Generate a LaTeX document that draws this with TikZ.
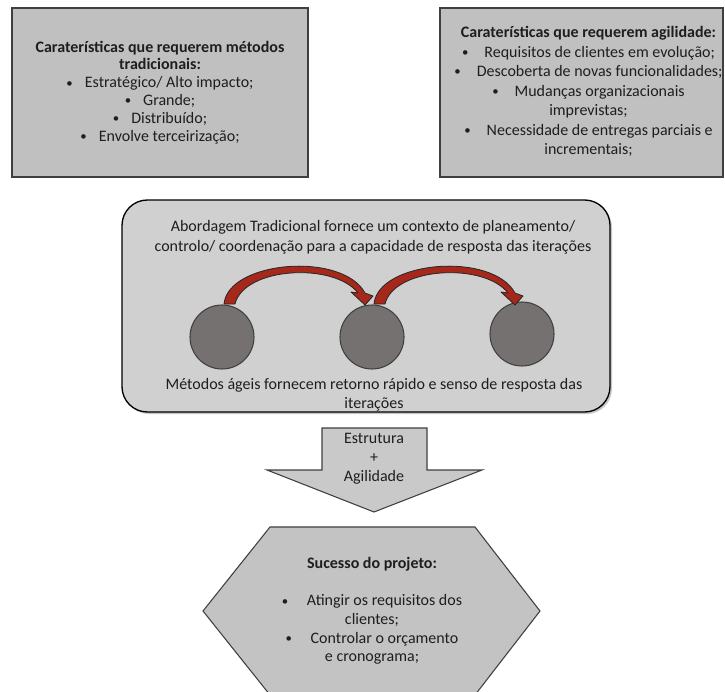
\documentclass[tikz,border=0pt]{standalone}
\usepackage{fontspec}
\setmainfont{Carlito}
\usetikzlibrary{shadows,calc}

\definecolor{boxgray}{HTML}{C0C0C0}
\definecolor{panelgray}{HTML}{D0D0D0}
\definecolor{dotgray}{HTML}{767171}
\definecolor{arrowred}{HTML}{A5281B}
\definecolor{edgegray}{HTML}{3F3F3F}
\definecolor{inkgray}{HTML}{1E1E1E}

\newcommand{\bul}[1]{\raisebox{0.1ex}{\scalebox{0.8}{\textbullet}}\hspace{#1}}

\tikzset{
  infobox/.style={draw=edgegray, line width=1.5pt, fill=boxgray, inner sep=0pt},
  panel/.style={draw=black, line width=1pt, fill=panelgray, rounded corners=19pt,
    drop shadow={shadow xshift=1.5pt, shadow yshift=-1.5pt, opacity=0.45}},
  dot/.style={circle, draw=edgegray, line width=0.8pt, fill=dotgray, minimum size=48pt, inner sep=0pt},
  label/.style={text=inkgray, align=center, inner sep=0pt, font=\fontsize{12}{14}\selectfont},
  loop arrow/.style={fill=arrowred, draw=black!85, line width=0.6pt, line join=round},
  bigarrow/.style={draw=edgegray, line width=0.8pt, fill=boxgray!85!white},
  hexshape/.style={draw=edgegray, line width=0.8pt, fill=boxgray!95!white}
}

\begin{document}
\begin{tikzpicture}[x=0.75pt, y=-0.75pt]
\useasboundingbox (0,0) rectangle (725,692);
\clip (0,0) rectangle (725,692);

% the two boxes of characteristics
\node[infobox, minimum width=222pt, minimum height=126.75pt] (trad) at (160,92.5) {};
\node[label, font=\fontsize{12}{13.4}\selectfont] (tradtxt) at (trad.center)
  {\textbf{Caraterísticas que requerem métodos}\\
   \textbf{tradicionais:}\\
   \bul{9pt}Estratégico/ Alto impacto;\\
   \bul{9pt}Grande;\\
   \bul{9pt}Distribuído;\\
   \bul{9pt}Envolve terceirização;};

\node[infobox, minimum width=212.25pt, minimum height=126.75pt] (agil) at (581.5,92.5) {};
\node[label, font=\fontsize{12}{14.6}\selectfont] (agiltxt) at ($(agil.center)+(7,-1)$)
  {\textbf{Caraterísticas que requerem agilidade:}\\
   \bul{12pt}Requisitos de clientes em evolução;\\
   \bul{12pt}Descoberta de novas funcionalidades;\\
   \bul{12pt}Mudanças organizacionais\\
   imprevistas;\\
   \bul{12pt}Necessidade de entregas parciais e\\
   incrementais;};

% central panel with the iterations
\node[panel, minimum width=366pt, minimum height=159pt, inner sep=0pt] (core) at (366,306) {};
\node[label, font=\fontsize{12}{15}\selectfont] (plan) at (373,237)
  {Abordagem Tradicional fornece um contexto de planeamento/\\
   controlo/ coordenação para a capacidade de resposta das iterações};
\node[label, font=\fontsize{12}{14.5}\selectfont] (agile) at (374,395)
  {Métodos ágeis fornecem retorno rápido e senso de resposta das\\
   iterações};

\node[dot] (c1) at (222,337) {};
\node[dot] (c2) at (372,337) {};
\node[dot] (c3) at (522,334) {};

% curved block arrows from one iteration to the next
\foreach \from/\to in {c1/c2, c2/c3}{
  \begin{scope}[shift={(\from.center)}]
    \path[loop arrow] (2,-33) .. controls (6,-76) and (120,-86) .. (143,-44)
      -- (151,-41) -- (143,-32) -- (129,-45) -- (136,-44)
      .. controls (112,-75) and (22,-70) .. (13,-33) -- cycle;
  \end{scope}
}

% block arrow down
\path[bigarrow] (322,428) -- (427,428) -- (427,470) -- (482,470) -- (374,512)
  -- (267,470) -- (322,470) -- cycle;
\node[label, font=\fontsize{12}{14.2}\selectfont] (mix) at (374,459)
  {Estrutura\\+\\Agilidade};

% hexagon with the outcome
\path[hexshape] (270,527) -- (475,527) -- (540,611) -- (475,695) -- (270,695)
  -- (203,611) -- cycle;
\node[label, font=\fontsize{12}{13.9}\selectfont] (goal) at (372,611)
  {\textbf{Sucesso do projeto:}\\[13.9pt]
   \bul{14pt}Atingir os requisitos dos\\
   clientes;\\
   \bul{14pt}Controlar o orçamento\\
   e cronograma;};
\end{tikzpicture}
\end{document}
